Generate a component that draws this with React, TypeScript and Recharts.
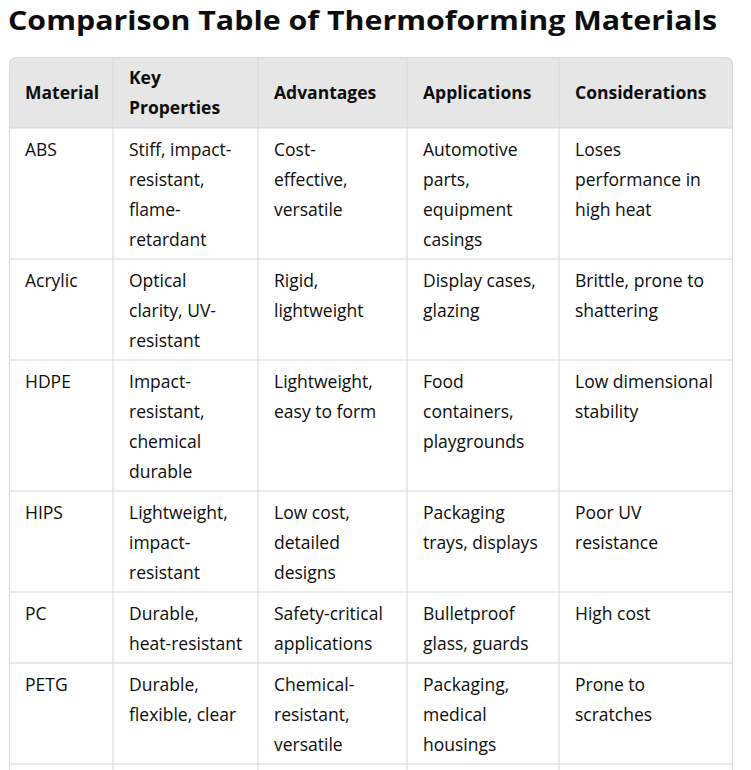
import React from 'react'
import { ComposedChart, XAxis, YAxis, ReferenceArea, ReferenceLine } from 'recharts'

const title = 'Comparison Table of Thermoforming Materials'

// header labels and cell texts, line breaks as they wrap in the picture
const columns = ['Material', 'Key\nProperties', 'Advantages', 'Applications', 'Considerations']
const materials = ['ABS', 'Acrylic', 'HDPE', 'HIPS', 'PC', 'PETG']
const keyProperties = [
	'Stiff, impact-\nresistant,\nflame-\nretardant',
	'Optical\nclarity, UV-\nresistant',
	'Impact-\nresistant,\nchemical\ndurable',
	'Lightweight,\nimpact-\nresistant',
	'Durable,\nheat-resistant',
	'Durable,\nflexible, clear',
]
const advantages = [
	'Cost-\neffective,\nversatile',
	'Rigid,\nlightweight',
	'Lightweight,\neasy to form',
	'Low cost,\ndetailed\ndesigns',
	'Safety-critical\napplications',
	'Chemical-\nresistant,\nversatile',
]
const applications = [
	'Automotive\nparts,\nequipment\ncasings',
	'Display cases,\nglazing',
	'Food\ncontainers,\nplaygrounds',
	'Packaging\ntrays, displays',
	'Bulletproof\nglass, guards',
	'Packaging,\nmedical\nhousings',
]
const considerations = [
	'Loses\nperformance in\nhigh heat',
	'Brittle, prone to\nshattering',
	'Low dimensional\nstability',
	'Poor UV\nresistance',
	'High cost',
	'Prone to\nscratches',
]

const W = 751
const H = 770
const TABLE_LEFT = 9
const TABLE_TOP = 57
const TABLE_RIGHT = 733
const COL_WIDTHS = [104, 145, 149, 152, 174]
const LINE_H = 30
const ROW_EXTRA = 11
const PAD_X = 16
const FONT = '"Segoe UI", "Open Sans", sans-serif'
const FONT_SIZE = 17.5
const TEXT = '#0d0d0d'
const BORDER = '#d6d6d6'
const HEAD_BG = '#e6e6e6'

const tableW = TABLE_RIGHT - TABLE_LEFT
const tableH = H - TABLE_TOP

const colX = COL_WIDTHS.reduce((acc, w) => [...acc, acc[acc.length - 1] + w], [0])

const bodyRows = materials.map((m, i) => [m, keyProperties[i], advantages[i], applications[i], considerations[i]])
const nLines = (cells) => Math.max(...cells.map((c) => c.split('\n').length))

// row boundaries in table coordinates
const rowDefs = [{ cells: columns, header: true }, ...bodyRows.map((cells) => ({ cells, header: false }))]
let cursor = 0
const rows = rowDefs.map((r) => {
	const lines = nLines(r.cells)
	const y1 = cursor
	const y2 = cursor + lines * LINE_H + ROW_EXTRA
	cursor = y2
	return { ...r, lines, y1, y2 }
})

const CellText = ({ x, y, height, text, header }) => {
	const lines = text.split('\n')
	let first = y + 27.5
	if (header) first = y + (height - lines.length * LINE_H) / 2 + 21.5
	return (
		<text
			fontFamily={FONT}
			fontSize={FONT_SIZE}
			fontWeight={header ? 700 : 400}
			fill={TEXT}
		>
			{lines.map((l, i) => (
				<tspan key={i} x={x + PAD_X} y={first + i * LINE_H}>{l}</tspan>
			))}
		</text>
	)
}

const topRounded = (x, y, w, h, r, closed) => {
	const p = `M${x},${y + h} L${x},${y + r} Q${x},${y} ${x + r},${y} L${x + w - r},${y} Q${x + w},${y} ${x + w},${y + r} L${x + w},${y + h}`
	return closed ? p + ' Z' : p
}

export default function App() {
	return (
		<div style={{ position: 'absolute', left: 0, top: 0, width: W, height: H, background: '#fff' }}>
			<svg width={W} height={TABLE_TOP} style={{ position: 'absolute', left: 0, top: 0 }}>
				<text
					x={8}
					y={30}
					fontFamily={FONT}
					fontSize={27}
					fontWeight={700}
					fill={TEXT}
					textLength={709}
					lengthAdjust='spacingAndGlyphs'
				>
					{title}
				</text>
			</svg>
			<ComposedChart
				width={W}
				height={H}
				data={[]}
				margin={{ top: TABLE_TOP, right: W - TABLE_RIGHT, bottom: 0, left: TABLE_LEFT }}
				style={{ position: 'absolute', left: 0, top: 0 }}
			>
				<XAxis type='number' dataKey='x' domain={[0, tableW]} allowDataOverflow hide />
				<YAxis type='number' dataKey='y' domain={[0, tableH]} reversed allowDataOverflow hide />

				{/* header background */}
				<ReferenceArea
					x1={0}
					x2={tableW}
					y1={rows[0].y1}
					y2={rows[0].y2}
					ifOverflow='visible'
					shape={(p) => <path d={topRounded(p.x, p.y, p.width, p.height, 8, true)} fill={HEAD_BG} />}
				/>

				{/* row separators */}
				{rows.map((r, i) => (
					<ReferenceLine key={`h${i}`} y={r.y2} stroke={BORDER} strokeWidth={1} ifOverflow='visible' />
				))}

				{/* column separators */}
				{colX.slice(1, -1).map((x, i) => (
					<ReferenceLine key={`v${i}`} x={x} stroke={BORDER} strokeWidth={1} ifOverflow='visible' />
				))}

				{/* cell texts */}
				{rows.map((r, ri) =>
					r.cells.map((c, ci) => (
						<ReferenceArea
							key={`c${ri}-${ci}`}
							x1={colX[ci]}
							x2={colX[ci + 1]}
							y1={r.y1}
							y2={r.y2}
							ifOverflow='visible'
							shape={(p) => (
								<CellText x={p.x} y={p.y} height={p.height} text={c} header={r.header} />
							)}
						/>
					))
				)}

				{/* outer frame, open at the bottom */}
				<ReferenceArea
					x1={0}
					x2={tableW}
					y1={0}
					y2={tableH}
					ifOverflow='visible'
					shape={(p) => (
						<path d={topRounded(p.x + 0.5, p.y + 0.5, p.width - 1, p.height, 8, false)} fill='none' stroke={BORDER} />
					)}
				/>
			</ComposedChart>
		</div>
	)
}
